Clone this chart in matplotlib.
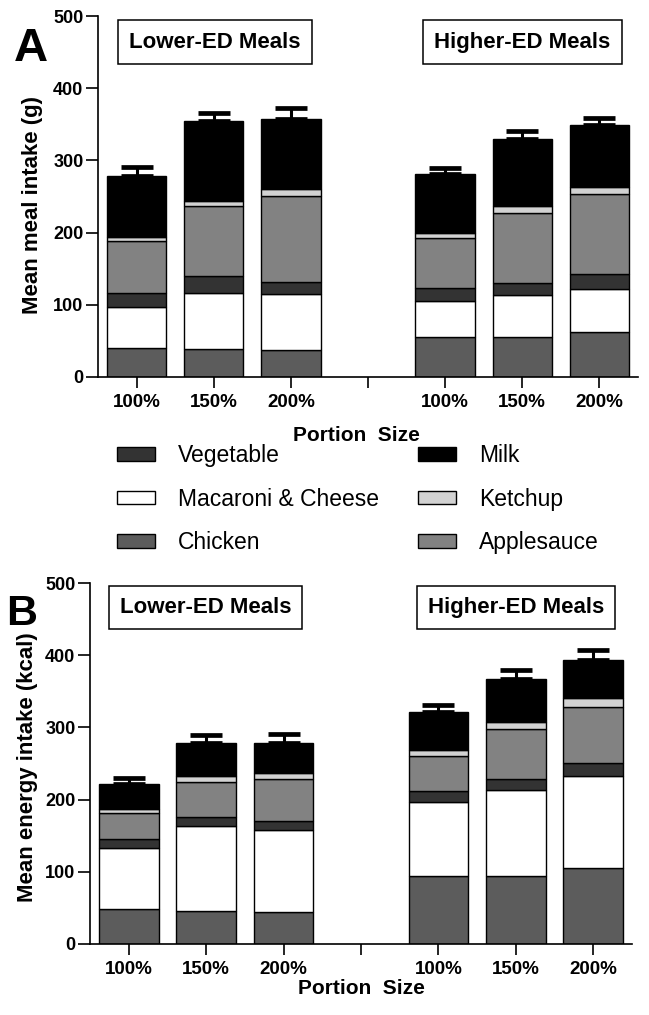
import matplotlib

matplotlib.use("Agg")
import matplotlib.pyplot as plt
import numpy as np
from matplotlib.patches import Patch

plt.rcParams["font.family"] = ["Liberation Sans", "DejaVu Sans"]

# bar groups: lower-ED 100/150/200 %, gap, higher-ED 100/150/200 %
BAR_POS = [0, 1, 2, 4, 5, 6]
TICK_POS = [0, 1, 2, 3, 4, 5, 6]
TICK_LABELS = ["100%", "150%", "200%", "", "100%", "150%", "200%"]

COMPONENTS = ["Chicken", "Macaroni & Cheese", "Vegetable", "Applesauce", "Ketchup", "Milk"]
COLORS = {
    "Chicken": "#5c5c5c",
    "Macaroni & Cheese": "#ffffff",
    "Vegetable": "#333333",
    "Applesauce": "#828282",
    "Ketchup": "#d2d2d2",
    "Milk": "#000000",
}

# Panel A: meal intake (g), per component
grams_chicken = [40.0, 38.7, 36.9, 55.3, 55.3, 61.8]
grams_macaroni = [57.0, 77.3, 77.4, 49.3, 57.7, 59.9]
grams_vegetable = [19.6, 23.6, 17.7, 18.0, 17.0, 21.2]
grams_applesauce = [72.4, 97.3, 119.0, 70.5, 96.7, 110.6]
grams_ketchup = [4.5, 6.5, 9.0, 6.0, 10.0, 10.0]
grams_milk = [85.5, 111.7, 98.0, 81.6, 93.5, 85.2]
grams_sem = [11.3, 11.0, 14.0, 9.4, 10.6, 10.2]

# Panel B: energy intake (kcal), per component
kcal_chicken = [48.0, 46.2, 44.4, 94.3, 94.3, 104.9]
kcal_macaroni = [85.5, 117.8, 113.6, 101.7, 119.2, 127.1]
kcal_vegetable = [11.5, 11.6, 12.0, 16.0, 15.2, 18.5]
kcal_applesauce = [36.0, 49.4, 58.7, 48.6, 68.9, 77.5]
kcal_ketchup = [5.7, 7.0, 8.8, 7.4, 10.2, 12.6]
kcal_milk = [35.1, 47.0, 41.5, 52.7, 59.2, 53.1]
kcal_sem = [7.9, 9.8, 11.7, 10.3, 13.0, 13.3]


def draw_panel(ax, layers, sem, ylabel, ylabel_size, letter, letter_size, box_pos):
    bottom = np.zeros(len(BAR_POS))
    for name, values in zip(COMPONENTS, layers):
        values = np.asarray(values)
        ax.bar(BAR_POS, values, bottom=bottom, width=0.77, color=COLORS[name],
               edgecolor="black", linewidth=1.0, zorder=2)
        bottom = bottom + values
    ax.errorbar(BAR_POS, bottom, yerr=[np.zeros(len(sem)), sem], fmt="none",
                ecolor="black", elinewidth=2.2, capsize=11.5, capthick=3.4, zorder=3)

    ax.set_xlim(-0.5, 6.5)
    ax.set_ylim(0, 500)
    ax.set_yticks(np.arange(0, 501, 100))
    ax.set_xticks(TICK_POS)
    ax.set_xticklabels(TICK_LABELS)
    for spine in ("top", "right"):
        ax.spines[spine].set_visible(False)
    for spine in ("left", "bottom"):
        ax.spines[spine].set_linewidth(1.2)
    ax.tick_params(axis="y", direction="out", length=8.5, width=1.2, labelsize=13, pad=2)
    ax.tick_params(axis="x", direction="out", length=8, width=1.2, labelsize=13.5, pad=4)
    for lab in ax.get_xticklabels() + ax.get_yticklabels():
        lab.set_fontweight("bold")

    ax.set_ylabel(ylabel, fontsize=ylabel_size, fontweight="bold", labelpad=3)
    ax.set_xlabel("Portion  Size", fontsize=15, fontweight="bold", labelpad=1)

    ax.text(-0.155, 0.97, letter, transform=ax.transAxes, fontsize=letter_size,
            fontweight="bold", ha="left", va="top")
    box = {"boxstyle": "square,pad=0.5", "facecolor": "white", "edgecolor": "black", "linewidth": 1.1}
    ax.text(box_pos[0], box_pos[2], "Lower-ED Meals", transform=ax.transAxes, fontsize=16,
            fontweight="bold", ha="center", va="center", bbox=box)
    ax.text(box_pos[1], box_pos[2], "Higher-ED Meals", transform=ax.transAxes, fontsize=16,
            fontweight="bold", ha="center", va="center", bbox=box)


fig = plt.figure(figsize=(6.49, 10.15), dpi=100, facecolor="white")
ax_a = fig.add_axes([0.151, 0.6286, 0.832, 0.3556])
ax_b = fig.add_axes([0.1387, 0.0700, 0.8351, 0.3556])

draw_panel(ax_a,
           [grams_chicken, grams_macaroni, grams_vegetable, grams_applesauce, grams_ketchup, grams_milk],
           grams_sem, "Mean meal intake (g)", 16, "A", 34, (0.217, 0.786, 0.928))
draw_panel(ax_b,
           [kcal_chicken, kcal_macaroni, kcal_vegetable, kcal_applesauce, kcal_ketchup, kcal_milk],
           kcal_sem, "Mean energy intake (kcal)", 16, "B", 31, (0.213, 0.786, 0.932))
ax_a.xaxis.set_label_coords(0.478, -0.137)
ax_a.yaxis.set_label_coords(-0.102, 0.476)
ax_b.yaxis.set_label_coords(-0.096, 0.49)

handle_kw = {"edgecolor": "black", "linewidth": 1.0}
left_names = ["Vegetable", "Macaroni & Cheese", "Chicken"]
right_names = ["Milk", "Ketchup", "Applesauce"]
legend_kw = {"frameon": False, "fontsize": 16.5, "handlelength": 1.66, "handleheight": 0.52,
             "handletextpad": 1.0, "labelspacing": 0.9, "borderpad": 0, "borderaxespad": 0,
             "loc": "upper left"}
fig.legend([Patch(facecolor=COLORS[n], **handle_kw) for n in left_names], left_names,
           bbox_to_anchor=(117 / 649, 1 - 444 / 1015), **legend_kw)
fig.legend([Patch(facecolor=COLORS[n], **handle_kw) for n in right_names], right_names,
           bbox_to_anchor=(418 / 649, 1 - 444 / 1015), **legend_kw)

fig.savefig("out.png", dpi=100)
